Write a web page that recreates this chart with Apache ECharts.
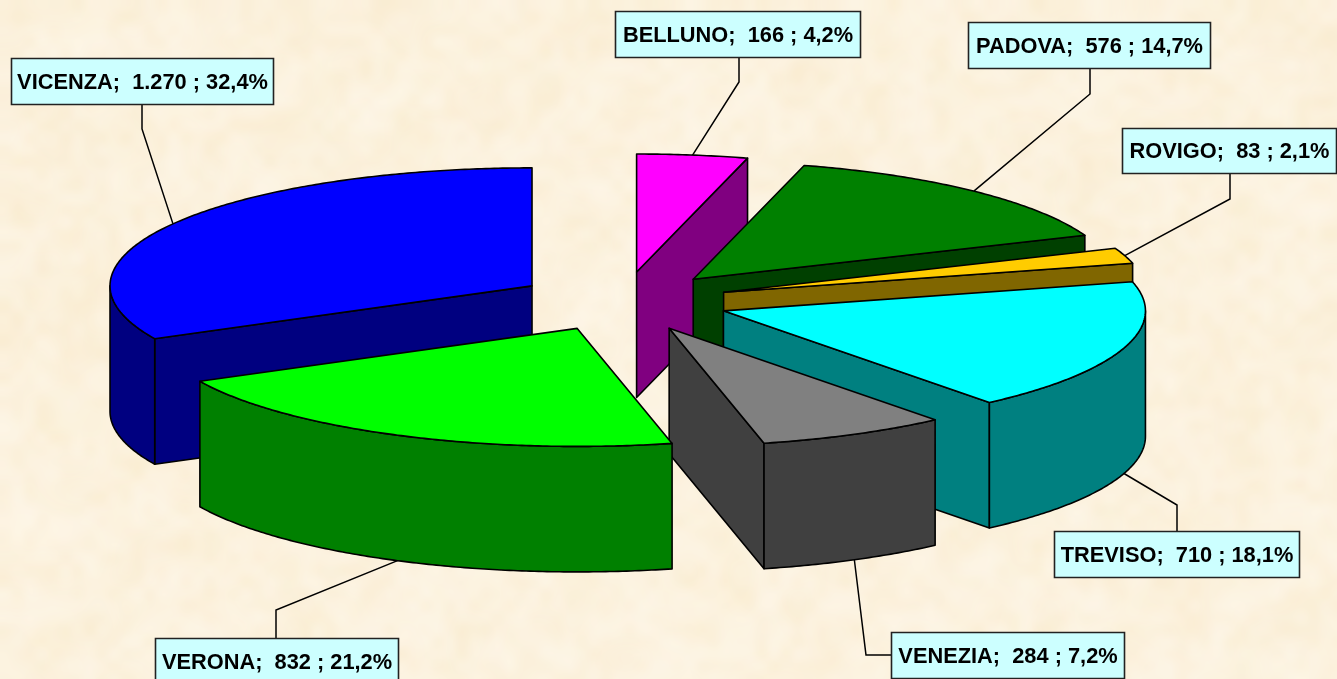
<!DOCTYPE html>
<html><head><meta charset="utf-8">
<style>html,body{margin:0;padding:0;background:#fdf3df}#c{width:1337px;height:679px}</style>
<script src="https://cdn.jsdelivr.net/npm/echarts@6/dist/echarts.min.js"></script>
</head><body><div id="c"></div>
<script>
// ---- data (clockwise from 12 o'clock) ----
var categories = ['BELLUNO','PADOVA','ROVIGO','TREVISO','VENEZIA','VERONA','VICENZA'];
var values     = [166, 576, 83, 710, 284, 832, 1270];
var valueLabels = ['166','576','83','710','284','832','1.270'];
// ---- styles ----
var topColors  = ['#FF00FF','#008000','#FFCC00','#00FFFF','#808080','#00FF00','#0000FF'];
var sideColors = ['#800080','#004000','#806600','#008080','#404040','#008000','#000080'];
// draw order back to front
var drawOrder  = [0,1,6,2,3,4,5];
// label boxes [x,y,w,h] px, and leader elbow [x,y] px
var labelBoxes = [[615,11,245,46],[968,22,242,46],[1122,128,214,45],[1054,531,245,46],[891,632,233,46],[155,638,243,46],[11,58,262,46]];
var leaderAttach = [[739,57],[1090,68],[1230,173],[1177,531],[891,655],[276,638],[142,104]];
var leaderElbow  = [[739,82],[1090,94],[1230,199],[1177,505],[866,655],[276,610],[142,129]];
// pie geometry, px
var CX=622.5, CY=301.5, RX=422, RY=118, DEPTH=125.5, EXPLODE=0.252, W=1337, H=679;

var total = values.reduce(function(a,b){return a+b;},0);
var starts=[], acc=0;
values.forEach(function(v){starts.push(acc/total*Math.PI*2); acc+=v;});
function ang(i){return [starts[i], starts[i]+values[i]/total*Math.PI*2];}
function apexU(i){var a=ang(i),m=(a[0]+a[1])/2;return [EXPLODE*Math.sin(m),EXPLODE*Math.cos(m)];}
var DU=DEPTH/RY;
function pt(i,t,drop){var c=apexU(i);return [c[0]+Math.sin(t),c[1]+Math.cos(t)-(drop?DU:0)];}
function pct(v){return (v/total*100).toFixed(1).replace('.',',')+'%';}

function renderSlice(params,api){
  var i=api.value(0);
  var a=ang(i),s=a[0],e=a[1],c=apexU(i);
  function P(p){return api.coord(p);}
  var kids=[];
  function poly(pts,fill){kids.push({type:'polygon',shape:{points:pts.map(P)},style:{fill:fill,stroke:'#000',lineWidth:1.6,lineJoin:'round'}});}
  var side=sideColors[i],cb=[c[0],c[1]-DU];
  if(Math.sin(s)<-1e-6) poly([c,pt(i,s),pt(i,s,true),cb],side);
  if(Math.sin(e)>1e-6) poly([c,pt(i,e),pt(i,e,true),cb],side);
  var w0=Math.max(s,Math.PI/2),w1=Math.min(e,Math.PI*1.5);
  if(w1>w0){
    var up=[],dn=[],n=Math.ceil((w1-w0)/0.01);
    for(var k=0;k<=n;k++){var t=w0+(w1-w0)*k/n;up.push(pt(i,t));dn.unshift(pt(i,t,true));}
    poly(up.concat(dn),side);
  }
  var pts=[c],m=Math.ceil((e-s)/0.01);
  for(var j=0;j<=m;j++){pts.push(pt(i,s+(e-s)*j/m));}
  poly(pts,topColors[i]);
  return {type:'group',children:kids};
}
function renderLabel(params,api){
  var i=api.value(0),b=labelBoxes[i],a=ang(i),mid=(a[0]+a[1])/2;
  var end=api.coord(pt(i,mid,Math.cos(mid)<0));
  return {type:'group',children:[
    {type:'polyline',shape:{points:[leaderAttach[i],leaderElbow[i],end]},style:{fill:'none',stroke:'#000',lineWidth:1.5}},
    {type:'rect',shape:{x:b[0]+.5,y:b[1]+.5,width:b[2],height:b[3]},style:{fill:'#CCFFFF',stroke:'#222',lineWidth:1.6}},
    {type:'text',style:{x:b[0]+b[2]/2+.5,y:b[1]+b[3]/2+1.5,text:categories[i]+';  '+valueLabels[i]+' ; '+pct(values[i]),
      align:'center',verticalAlign:'middle',fill:'#000',font:'bold 21.8px "Liberation Sans", Arial, sans-serif'}}
  ]};
}
// parchment texture (decoration only)
function texture(){
  var cv=document.createElement('canvas');cv.width=W;cv.height=H;
  var g=cv.getContext('2d');g.fillStyle='#FCF2DF';g.fillRect(0,0,W,H);
  var seed=12345;function r(){seed=(seed*1103515245+12345)&0x7fffffff;return seed/0x7fffffff;}
  [[12,0.3],[28,0.28]].forEach(function(o){
    var cw=Math.ceil(W/o[0])+1,ch=Math.ceil(H/o[0])+1;
    var lo=document.createElement('canvas');lo.width=cw;lo.height=ch;
    var l=lo.getContext('2d');
    for(var y=0;y<ch;y++)for(var x=0;x<cw;x++){
      var v=r();
      l.fillStyle=v>0.5?'rgba(255,250,240,'+((v-.5)*o[1]*1.6)+')':'rgba(245,228,190,'+((.5-v)*o[1]*1.6)+')';
      l.fillRect(x,y,1,1);
    }
    g.imageSmoothingEnabled=true;g.imageSmoothingQuality='high';
    g.drawImage(lo,0,0,cw*o[0],ch*o[0]);
  });
  return cv;
}
var indices=categories.map(function(_,i){return [i];});
var chart=echarts.init(document.getElementById('c'),null,{renderer:'canvas',width:W,height:H});
chart.setOption({
  animation:false,
  backgroundColor:{image:texture(),repeat:'no-repeat'},
  grid:{left:0,right:0,top:0,bottom:0},
  xAxis:{type:'value',show:false,min:-CX/RX,max:(W-CX)/RX},
  yAxis:{type:'value',show:false,min:-(H-CY)/RY,max:CY/RY},
  series:[
    {type:'custom',name:'labels',coordinateSystem:'cartesian2d',clip:false,silent:true,renderItem:renderLabel,data:indices,encode:{x:0,y:0}},
    {type:'custom',name:'slices',coordinateSystem:'cartesian2d',clip:false,silent:true,renderItem:renderSlice,data:drawOrder.map(function(i){return [i,values[i]];}),encode:{x:0,y:0}}
  ]
});
</script></body></html>
